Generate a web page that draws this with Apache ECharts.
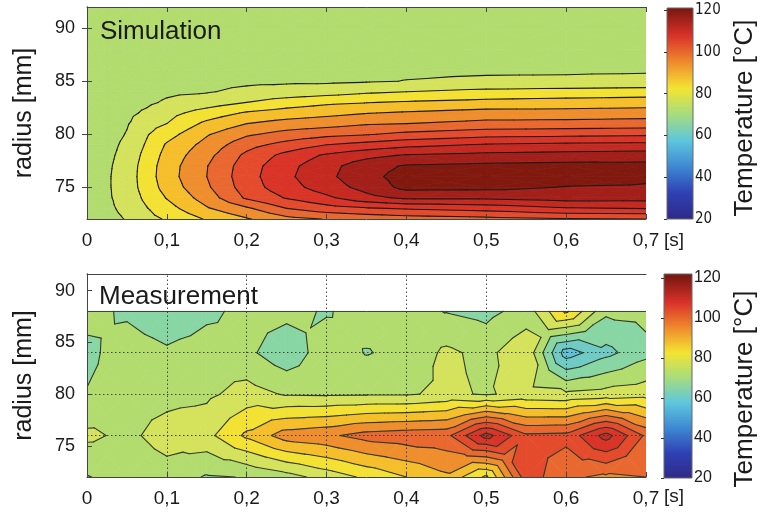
<!DOCTYPE html>
<html>
<head>
<meta charset="utf-8">
<title>Simulation vs Measurement</title>
<script src="https://cdn.jsdelivr.net/npm/echarts@6.0.0/dist/echarts.min.js"></script>
<style>
  html, body { margin: 0; padding: 0; background: #fff; }
  #chart { width: 760px; height: 513px; }
</style>
</head>
<body>
<div id="chart"></div>
<script>
// simulation: one column of temperatures (over simRadii) per time
const simTimes = [0, 0.025, 0.05, 0.075, 0.1, 0.15, 0.2, 0.25, 0.3, 0.35, 0.4, 0.5, 0.6, 0.7];
const simRadii = [72, 73, 74, 75, 76, 77, 78, 79, 80, 81, 82, 83, 84, 85, 86, 88, 90, 92];
const simTemps = [
  [72, 72.5, 73, 73, 73, 73, 72.5, 72, 71.5, 71.3, 71.1, 71, 71, 71, 71, 70.5, 70, 70],
  [73.5, 74, 74.3, 74.4, 74.4, 74.2, 73.8, 73.3, 72.8, 72.4, 72, 71.7, 71.5, 71.3, 71.2, 71, 70.5, 70],
  [75.3, 76.3, 77, 77.4, 77.4, 77.2, 76.8, 76.2, 75.3, 74.6, 73.9, 73.3, 72.8, 72.4, 72.1, 71.5, 71, 70.5],
  [78.5, 79.8, 81.2, 82.2, 82.6, 82.4, 81.6, 80.6, 79.6, 78.2, 75.8, 74.2, 73.3, 72.8, 72.4, 71.8, 71.2, 70.7],
  [80.5, 83, 85.3, 87, 87.8, 87.6, 86.8, 85.6, 83, 80, 78.3, 75.6, 74.2, 73.4, 72.9, 72.2, 71.5, 71],
  [85.5, 89.5, 92.3, 94.2, 95, 94.8, 93.5, 91.7, 89.5, 86.2, 82.2, 77.5, 74.7, 73.8, 73.3, 72.5, 71.8, 71.3],
  [89.5, 94.2, 100.8, 102.5, 103, 102.6, 101.2, 98.2, 94.2, 90, 85.6, 80, 76, 74.2, 73.6, 72.8, 72, 71.5],
  [93.5, 100, 105.4, 108, 109, 108.5, 106.6, 101.8, 96.8, 92, 87.2, 82.4, 77, 74.3, 73.8, 73, 72.2, 71.7],
  [95.2, 103, 109, 112.5, 113.8, 113.2, 110.8, 105, 98.5, 93, 88.5, 84, 77.8, 74.2, 73.9, 73.2, 72.4, 71.9],
  [96.5, 104.5, 113.5, 116.8, 118.5, 118, 113.5, 106.8, 99.6, 94.5, 89.8, 84.8, 79.2, 74.6, 74.2, 73.4, 72.6, 72],
  [97.5, 105.5, 116, 121.5, 122, 120.5, 115.5, 108.5, 101.2, 95, 90.6, 85.5, 80, 75.1, 74.4, 73.6, 72.8, 72.2],
  [98.5, 107, 116, 121.3, 122.5, 121.2, 116.5, 110.5, 103, 96.5, 92, 86.5, 81.5, 75.6, 74.5, 73.8, 73, 72.4],
  [99.6, 109.5, 117.2, 119.8, 122.5, 121.6, 117, 111.2, 103.5, 96.8, 92, 87, 82, 75.8, 74.5, 73.9, 73.1, 72.5],
  [100, 110.2, 117, 119.5, 121, 121.5, 117.5, 111.5, 104, 97.2, 92.5, 87.5, 82.5, 76.2, 74.6, 74, 73.2, 72.6]
];

// measurement: one column (over measRadii) per time
const measTimes = [0, 0.05, 0.1, 0.15, 0.2, 0.25, 0.3, 0.35, 0.4, 0.45, 0.5, 0.55, 0.6, 0.65, 0.7];
const measRadii = [72, 76, 80, 84, 88];
const measTemps = [
  [69.8, 76, 70.3, 68.5, 72],
  [71.5, 73.9, 73, 73, 69],
  [73, 77, 73.5, 71, 65.5],
  [69.5, 78.5, 74, 72.5, 68.8],
  [70.2, 86, 77, 71.2, 71.5],
  [73, 92.5, 74.5, 66.5, 71.5],
  [77, 94, 74.3, 73, 69.5],
  [81, 97, 74.5, 69.7, 72.5],
  [85, 98, 74.5, 71.5, 71.5],
  [89, 98.5, 76, 76, 69.8],
  [79, 112, 74.5, 73.5, 68.5],
  [103, 101, 76.5, 79, 72],
  [96, 101.5, 76, 57.4, 86],
  [94, 112, 77, 63.5, 71],
  [95, 99, 78, 68.5, 71.5]
];

const contourLevels = [55, 60, 65, 70, 75, 80, 85, 90, 95, 100, 105, 110, 115, 120];
const radiusTicks = [75, 80, 85, 90];
const tempTicks = [20, 40, 60, 80, 100, 120];
const measGridTimes = [0.1, 0.2, 0.3, 0.4, 0.5, 0.6];
const measGridRadii = [76, 80, 84];
const measTopRadius = 88;
const simColorbar = [0, 20, 1, 121];
const measColorbar = [0, 20, 1, 122];

// colours for the filled bands (below first level ... above last level)
const bandColors = [
  '#4fb3da', '#5cc3da', '#6fcbc4', '#88d6a3', '#b3dc6e', '#d4e25c', '#f3e133',
  '#f5be2b', '#ef8e2d', '#e96830', '#e44b2c', '#d93427', '#c52a21', '#a31f19', '#82190f'
];
// washed "jet" scale for the colour bars
const jetValues = [20, 32.5, 45, 57.5, 70, 82.5, 95, 107.5, 120];
const jetColors = ['#2e2a86', '#2f40b4', '#3d88d2', '#5dc6dd', '#a6dc7f', '#f3e432', '#ef8a2c', '#d9322a', '#7e1812'];

const FONT = '"Liberation Sans", Arial, Helvetica, sans-serif';
const NARROW = '"Liberation Sans Narrow", "DejaVu Sans Condensed", "Liberation Sans", sans-serif';
const INK = '#1a1a1a';
const FRAME = '#444';

function buildCells(times, radii, temps) {
  const cells = [];
  for (let i = 0; i < times.length - 1; i++) {
    for (let j = 0; j < radii.length - 1; j++) {
      cells.push([times[i], times[i + 1], radii[j], radii[j + 1],
        temps[i][j], temps[i + 1][j], temps[i][j + 1], temps[i + 1][j + 1]]);
    }
  }
  return cells;
}

// split a grid cell into 4 triangles around its centre (pixel coords + value)
function cellTriangles(api) {
  const t0 = api.value(0), t1 = api.value(1), r0 = api.value(2), r1 = api.value(3);
  const a = api.coord([t0, r0]), b = api.coord([t1, r0]);
  const c = api.coord([t1, r1]), d = api.coord([t0, r1]);
  const pa = [a[0], a[1], api.value(4)];
  const pb = [b[0], b[1], api.value(5)];
  const pc = [c[0], c[1], api.value(7)];
  const pd = [d[0], d[1], api.value(6)];
  const m = [(a[0] + c[0]) / 2, (a[1] + c[1]) / 2, (pa[2] + pb[2] + pc[2] + pd[2]) / 4];
  return [[pa, pb, m], [pb, pc, m], [pc, pd, m], [pd, pa, m]];
}

function clip(poly, thr, above) {
  const out = [];
  for (let i = 0; i < poly.length; i++) {
    const a = poly[i], b = poly[(i + 1) % poly.length];
    const ina = above ? a[2] >= thr : a[2] < thr;
    const inb = above ? b[2] >= thr : b[2] < thr;
    if (ina) out.push(a);
    if (ina !== inb) {
      const f = (thr - a[2]) / (b[2] - a[2]);
      out.push([a[0] + f * (b[0] - a[0]), a[1] + f * (b[1] - a[1]), thr]);
    }
  }
  return out;
}

function renderFill(params, api) {
  const children = [];
  cellTriangles(api).forEach(tri => {
    const vs = tri.map(p => p[2]);
    const vmin = Math.min(...vs), vmax = Math.max(...vs);
    for (let k = 0; k <= contourLevels.length; k++) {
      const lo = k === 0 ? -Infinity : contourLevels[k - 1];
      const hi = k === contourLevels.length ? Infinity : contourLevels[k];
      if (vmax < lo || vmin >= hi) continue;
      let poly = tri;
      if (lo > vmin) poly = clip(poly, lo, true);
      if (poly.length >= 3 && hi <= vmax) poly = clip(poly, hi, false);
      if (poly.length < 3) continue;
      children.push({
        type: 'polygon',
        shape: { points: poly.map(p => [p[0], p[1]]) },
        style: { fill: bandColors[k], stroke: bandColors[k], lineWidth: 0.8 }
      });
    }
  });
  return { type: 'group', children };
}

function lineRenderer(color) {
  return function (params, api) {
    const children = [];
    cellTriangles(api).forEach(tri => {
      contourLevels.forEach(L => {
        const pts = [];
        for (let i = 0; i < 3; i++) {
          const a = tri[i], b = tri[(i + 1) % 3];
          if ((a[2] >= L) !== (b[2] >= L)) {
            const f = (L - a[2]) / (b[2] - a[2]);
            pts.push([a[0] + f * (b[0] - a[0]), a[1] + f * (b[1] - a[1])]);
          }
        }
        if (pts.length === 2) {
          children.push({
            type: 'line',
            shape: { x1: pts[0][0], y1: pts[0][1], x2: pts[1][0], y2: pts[1][1] },
            style: { stroke: color, lineWidth: 1.1, lineCap: 'round' }
          });
        }
      });
    });
    return { type: 'group', children };
  };
}

function renderColorbar(params, api) {
  const lo = api.value(1), hi = api.value(3);
  const p0 = api.coord([api.value(0), hi]);
  const p1 = api.coord([api.value(2), lo]);
  const stops = jetValues.map((v, i) => ({ offset: (v - lo) / (hi - lo), color: jetColors[i] }));
  return {
    type: 'rect',
    shape: { x: p0[0], y: p0[1], width: p1[0] - p0[0], height: p1[1] - p0[1] },
    style: { fill: new echarts.graphic.LinearGradient(0, 1, 0, 0, stops), stroke: '#666', lineWidth: 1 }
  };
}

const fmtTime = v => (v === 0 ? '0' : v.toFixed(1).replace('.', ','));

const timeAxis = gridIndex => ({
  type: 'value', gridIndex, min: 0, max: 0.7, interval: 0.1, z: 10,
  axisLine: { show: true, lineStyle: { color: FRAME, width: 1 } },
  axisTick: { show: true, inside: true, length: 5, lineStyle: { color: FRAME } },
  splitLine: { show: false },
  axisLabel: { margin: 12, color: INK, fontSize: 19, fontFamily: FONT, formatter: fmtTime }
});

const boxX = (gridIndex, ticks) => ({
  type: 'value', gridIndex, position: 'top', min: 0, max: 0.7, interval: 0.1, z: 10,
  axisLine: { show: true, lineStyle: { color: FRAME, width: 1 } },
  axisTick: { show: ticks, inside: true, length: 5, lineStyle: { color: FRAME } },
  axisLabel: { show: false }, splitLine: { show: false }
});

const radiusAxis = (gridIndex, max) => ({
  type: 'value', gridIndex, min: 72, max, z: 10,
  axisLine: { show: true, lineStyle: { color: FRAME, width: 1 } },
  axisTick: { show: true, inside: true, length: 5, customValues: radiusTicks, lineStyle: { color: FRAME } },
  splitLine: { show: false },
  axisLabel: { customValues: radiusTicks, margin: 12, color: INK, fontSize: 18, fontFamily: FONT },
  name: 'radius [mm]', nameLocation: 'middle', nameGap: 50, nameRotate: 90,
  nameTextStyle: { color: INK, fontSize: 25, fontFamily: FONT }
});

const boxY = (gridIndex, max, ticks) => ({
  type: 'value', gridIndex, position: 'right', min: 72, max, z: 10,
  axisLine: { show: true, lineStyle: { color: FRAME, width: 1 } },
  axisTick: { show: ticks, inside: true, length: 5, customValues: radiusTicks, lineStyle: { color: FRAME } },
  axisLabel: { show: false }, splitLine: { show: false }
});

const colorAxis = (gridIndex, max, fontSize, fontFamily) => ({
  type: 'value', gridIndex, position: 'right', min: 20, max, z: 10,
  axisLine: { show: false },
  axisTick: { show: true, inside: true, length: 3, customValues: tempTicks, lineStyle: { color: '#333' } },
  splitLine: { show: false },
  axisLabel: { customValues: tempTicks, margin: 2, color: INK, fontSize, fontFamily }
});

const label = (text, x, y, size, rotated) => ({
  type: 'text', x, y, z: 100, rotation: rotated ? Math.PI / 2 : 0,
  style: { text, fill: INK, fontSize: size, fontFamily: FONT,
    align: rotated ? 'center' : 'left', verticalAlign: 'middle' }
});

const dotted = { color: '#333', width: 1, type: [1.5, 2.5], opacity: 0.9 };

const chart = echarts.init(document.getElementById('chart'), null, { renderer: 'canvas' });

chart.setOption({
  backgroundColor: '#fff',
  animation: false,
  grid: [
    { left: 87, top: 7, width: 559, height: 212 },
    { left: 87, top: 274, width: 559, height: 203 },
    { left: 667, top: 8, width: 26, height: 211 },
    { left: 664, top: 274, width: 28, height: 204 }
  ],
  xAxis: [
    timeAxis(0),
    timeAxis(1),
    { type: 'value', gridIndex: 2, min: 0, max: 1, show: false },
    { type: 'value', gridIndex: 3, min: 0, max: 1, show: false },
    boxX(0, true),
    boxX(1, false)
  ],
  yAxis: [
    radiusAxis(0, 92),
    radiusAxis(1, 91.6),
    colorAxis(2, simColorbar[3], 15, NARROW),
    colorAxis(3, measColorbar[3], 16, FONT),
    boxY(0, 92, true),
    boxY(1, 91.6, false)
  ],
  graphic: [
    label('Simulation', 100, 32, 26, false),
    label('Measurement', 99, 297, 26, false),
    label('[s]', 664, 241, 19, false),
    label('[s]', 664, 497, 19, false),
    label('Temperature [°C]', 745, 118, 26, true),
    label('Temperature [°C]', 745, 389, 26, true)
  ],
  series: [
    {
      type: 'custom', name: 'simFill', xAxisIndex: 0, yAxisIndex: 0, z: 2, silent: true, clip: true,
      encode: { x: [0, 1], y: [2, 3] },
      data: buildCells(simTimes, simRadii, simTemps), renderItem: renderFill
    },
    {
      type: 'custom', name: 'simLines', xAxisIndex: 0, yAxisIndex: 0, z: 3, silent: true, clip: true,
      encode: { x: [0, 1], y: [2, 3] },
      data: buildCells(simTimes, simRadii, simTemps), renderItem: lineRenderer('#1c1c1c')
    },
    {
      type: 'custom', name: 'measFill', xAxisIndex: 1, yAxisIndex: 1, z: 2, silent: true, clip: true,
      encode: { x: [0, 1], y: [2, 3] },
      data: buildCells(measTimes, measRadii, measTemps), renderItem: renderFill
    },
    {
      type: 'custom', name: 'measLines', xAxisIndex: 1, yAxisIndex: 1, z: 3, silent: true, clip: true,
      encode: { x: [0, 1], y: [2, 3] },
      data: buildCells(measTimes, measRadii, measTemps), renderItem: lineRenderer('#2e3a2a'),
      markLine: {
        silent: true, symbol: 'none', animation: false,
        label: { show: false },
        lineStyle: dotted,
        data: measGridTimes.map(t => ({ xAxis: t, lineStyle: dotted }))
          .concat(measGridRadii.map(r => ({ yAxis: r, lineStyle: dotted })))
          .concat([{ yAxis: measTopRadius, lineStyle: { type: 'solid', color: '#333', width: 1 } }])
      }
    },
    {
      type: 'custom', name: 'simScale', xAxisIndex: 2, yAxisIndex: 2, silent: true,
      encode: { x: [0, 2], y: [1, 3] },
      data: [simColorbar], renderItem: renderColorbar
    },
    {
      type: 'custom', name: 'measScale', xAxisIndex: 3, yAxisIndex: 3, silent: true,
      encode: { x: [0, 2], y: [1, 3] },
      data: [measColorbar], renderItem: renderColorbar
    }
  ]
});
</script>
</body>
</html>
